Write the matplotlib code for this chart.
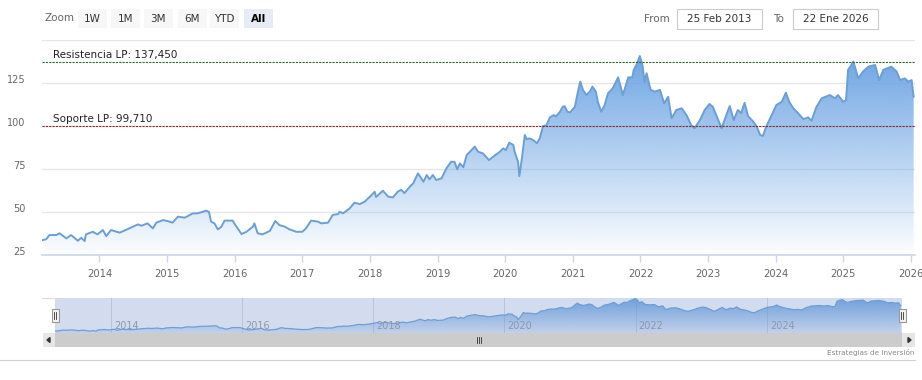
import numpy as np
import matplotlib
matplotlib.use("Agg")
import matplotlib.pyplot as plt
import matplotlib.colors as mcolors
from matplotlib.patches import Rectangle, Polygon
from matplotlib.transforms import ScaledTranslation

# price series, dates as decimal years
years = [
    2013.16, 2013.21, 2013.26, 2013.36, 2013.41, 2013.51, 2013.58, 2013.68, 2013.73, 2013.78,
    2013.80, 2013.90, 2013.97, 2014.05, 2014.10, 2014.17, 2014.30, 2014.44, 2014.57, 2014.62,
    2014.71, 2014.79, 2014.84, 2014.94, 2015.01, 2015.08, 2015.16, 2015.26, 2015.31, 2015.38,
    2015.45, 2015.58, 2015.62, 2015.65, 2015.70, 2015.75, 2015.80, 2015.85, 2015.97, 2016.00,
    2016.10, 2016.17, 2016.27, 2016.29, 2016.34, 2016.41, 2016.52, 2016.60, 2016.66, 2016.74,
    2016.81, 2016.91, 2017.00, 2017.05, 2017.13, 2017.23, 2017.28, 2017.38, 2017.45, 2017.53,
    2017.55, 2017.60, 2017.70, 2017.77, 2017.85, 2017.92, 2018.00, 2018.07, 2018.09, 2018.19,
    2018.27, 2018.34, 2018.41, 2018.46, 2018.51, 2018.59, 2018.64, 2018.71, 2018.79, 2018.84,
    2018.88, 2018.93, 2018.98, 2019.06, 2019.13, 2019.20, 2019.25, 2019.29, 2019.33, 2019.38,
    2019.43, 2019.50, 2019.55, 2019.60, 2019.67, 2019.76, 2019.82, 2019.92, 2019.97, 2020.01,
    2020.06, 2020.12, 2020.14, 2020.19, 2020.21, 2020.25, 2020.29, 2020.32, 2020.36, 2020.41,
    2020.47, 2020.51, 2020.56, 2020.61, 2020.66, 2020.72, 2020.75, 2020.81, 2020.85, 2020.88,
    2020.92, 2020.96, 2021.03, 2021.08, 2021.11, 2021.15, 2021.20, 2021.25, 2021.29, 2021.34,
    2021.37, 2021.42, 2021.47, 2021.52, 2021.59, 2021.67, 2021.74, 2021.82, 2021.88, 2021.90,
    2021.94, 2021.99, 2022.03, 2022.06, 2022.09, 2022.15, 2022.21, 2022.29, 2022.35, 2022.41,
    2022.46, 2022.53, 2022.61, 2022.68, 2022.75, 2022.80, 2022.88, 2022.95, 2023.02, 2023.07,
    2023.12, 2023.20, 2023.27, 2023.32, 2023.38, 2023.44, 2023.49, 2023.54, 2023.59, 2023.67,
    2023.72, 2023.77, 2023.81, 2023.86, 2023.94, 2024.01, 2024.09, 2024.15, 2024.20, 2024.26,
    2024.33, 2024.41, 2024.48, 2024.53, 2024.60, 2024.68, 2024.73, 2024.80, 2024.88, 2024.92,
    2025.00, 2025.04, 2025.07, 2025.15, 2025.22, 2025.29, 2025.37, 2025.47, 2025.53, 2025.59,
    2025.71, 2025.79, 2025.84, 2025.91, 2025.96, 2026.01, 2026.04,
]
prices = [
    33.7, 34.1, 36.6, 36.6, 37.6, 34.7, 36.6, 33.3, 35.0, 33.1,
    37.0, 38.5, 37.0, 39.5, 36.0, 39.5, 38.0, 40.5, 42.8, 42.0,
    43.4, 40.5, 43.8, 45.3, 44.7, 43.8, 47.3, 46.7, 47.7, 49.2,
    49.2, 50.8, 50.0, 44.4, 43.4, 39.9, 41.3, 45.0, 45.0, 43.0,
    37.2, 38.4, 41.5, 43.4, 37.6, 37.0, 39.0, 44.8, 42.4, 41.5,
    39.9, 38.5, 38.5, 40.3, 45.0, 44.4, 43.4, 43.8, 48.3, 48.8,
    50.2, 49.2, 52.1, 55.4, 54.6, 56.0, 58.9, 61.8, 58.7, 62.4,
    58.9, 58.5, 61.8, 62.9, 61.0, 64.7, 66.7, 72.5, 67.6, 71.5,
    69.0, 71.5, 68.6, 69.6, 75.4, 79.2, 79.2, 74.8, 78.3, 76.0,
    83.1, 86.0, 88.0, 85.0, 84.1, 80.2, 82.1, 85.0, 87.0, 86.0,
    90.3, 89.0, 85.0, 79.2, 70.9, 82.1, 94.8, 92.3, 92.8, 91.9,
    90.0, 92.8, 100.0, 100.4, 105.0, 106.4, 105.5, 108.3, 111.2, 111.5,
    108.3, 107.9, 111.2, 120.9, 125.8, 121.0, 118.0, 120.0, 122.9, 120.0,
    114.0, 108.3, 112.2, 119.0, 121.9, 128.3, 118.0, 128.3, 128.3, 132.6,
    135.5, 140.7, 135.5, 125.8, 130.7, 121.0, 120.0, 121.0, 113.2, 117.0,
    104.5, 109.3, 110.3, 106.4, 100.6, 98.7, 103.5, 109.3, 112.8, 111.2,
    106.4, 98.7, 106.4, 111.6, 103.5, 109.3, 107.5, 113.5, 105.8, 102.5,
    99.6, 94.8, 94.2, 99.6, 106.4, 112.2, 114.1, 119.4, 114.1, 110.3,
    107.5, 104.0, 105.0, 103.1, 110.9, 116.1, 116.9, 118.0, 116.1, 118.0,
    114.1, 115.0, 132.6, 137.4, 127.7, 131.6, 134.5, 135.5, 126.7, 132.6,
    134.5, 131.6, 126.7, 127.7, 125.8, 126.7, 117.0,
]

resistance = 137.450
support = 99.710
resistance_label = "Resistencia LP: 137,450"
support_label = "Soporte LP: 99,710"

y_ticks = [25, 50, 75, 100, 125, 150]
y_labels = ["25", "50", "75", "100", "125", ""]
x_ticks = list(range(2014, 2027))
nav_ticks = [2014, 2016, 2018, 2020, 2022, 2024]
zoom_buttons = ["1W", "1M", "3M", "6M", "YTD", "All"]
date_from = "25 Feb 2013"
date_to = "22 Ene 2026"
credit = "Estrategias de Inversión"

x0, x1 = 2013.15, 2026.06

W, H = 922, 380
fig = plt.figure(figsize=(W / 100, H / 100), dpi=100)
plt.rcParams['font.family'] = ['DejaVu Sans']


def px_axes(left, top, right, bottom, **kw):
    return fig.add_axes([left / W, 1 - bottom / H, (right - left) / W, (bottom - top) / H], **kw)


def gradient_fill(ax, x, y, ybot, ytop, rgb, a_top, a_bot, z):
    verts = [(x[0], ybot)] + list(zip(x, y)) + [(x[-1], ybot)]
    clip = Polygon(verts, closed=True, facecolor='none', edgecolor='none',
                   transform=ax.transData)
    ax.add_patch(clip)
    grad = np.zeros((256, 1, 4))
    grad[:, :, :3] = mcolors.to_rgb(rgb)
    grad[:, 0, 3] = np.linspace(a_top, a_bot, 256)
    im = ax.imshow(grad, aspect='auto', extent=[x[0], x[-1], ybot, ytop],
                   origin='upper', zorder=z, interpolation='bilinear')
    im.set_clip_path(clip)


# ---- main chart
ax = px_axes(42, 40, 915, 255)
gradient_fill(ax, years, prices, 25, 141, '#6ea5e4', 1.0, 0.02, 1)
ax.plot(years, prices, color='#6c9fd2', lw=1.4, zorder=3)
ax.set_xlim(x0, x1)
ax.set_ylim(25, 150)
ax.set_yticks(y_ticks)
ax.set_yticklabels(y_labels)
ax.set_xticks(x_ticks)
ax.set_xticklabels([str(t) for t in x_ticks])
ax.grid(axis='y', color='#e6e6e6', lw=1)
ax.set_axisbelow(True)
for s in ['top', 'right', 'left']:
    ax.spines[s].set_visible(False)
ax.spines['bottom'].set_color('#ccd6eb')
ax.spines['bottom'].set_linewidth(1.2)
ax.tick_params(axis='y', length=0, pad=12, labelsize=7, labelcolor='#666666')
ax.tick_params(axis='x', length=5, color='#ccd6eb', width=1, pad=5,
               labelsize=7.2, labelcolor='#666666')
for lab in ax.get_yticklabels():
    lab.set_transform(lab.get_transform() + ScaledTranslation(0, 4 / 100, fig.dpi_scale_trans))

ax.axhline(resistance, color='#2f6b2f', lw=0.8, ls=(0, (2, 1)), zorder=4)
ax.axhline(support, color='#8e2a2a', lw=0.8, ls=(0, (2, 1)), zorder=4)
ax.annotate(resistance_label, (x0, resistance), xytext=(11, 2), textcoords='offset pixels',
            fontsize=7.5, color='#222222', va='bottom', zorder=5)
ax.annotate(support_label, (x0, support), xytext=(11, 2), textcoords='offset pixels',
            fontsize=7.5, color='#222222', va='bottom', zorder=5)

# ---- navigator
nav = px_axes(55, 298, 902, 333)
nav.set_facecolor('#d3dbee')
lo, hi = min(prices), max(prices)
gradient_fill(nav, years, prices, lo - 6, hi, '#5f95d8', 0.85, 0.15, 1)
nav.plot(years, prices, color='#6d9fd6', lw=0.9, zorder=3)
nav.set_xlim(x0, x1)
nav.set_ylim(lo - 6, hi + 2)
for t in nav_ticks:
    nav.axvline(t, color='#bcc5d8', lw=0.7, zorder=0.5)
    nav.annotate(str(t), (t, lo - 6), xytext=(3, 2), textcoords='offset pixels',
                 fontsize=7, color='#8f98aa', va='bottom', zorder=4)
nav.set_xticks([])
nav.set_yticks([])
for s in nav.spines.values():
    s.set_visible(False)

# ---- overlay axes in pixel coordinates for widgets
ov = fig.add_axes([0, 0, 1, 1], zorder=10)
ov.set_xlim(0, W)
ov.set_ylim(H, 0)
ov.axis('off')
ov.patch.set_alpha(0)

# navigator handles
for hx in (55, 902):
    ov.add_patch(Rectangle((hx - 3.5, 309), 7, 13, facecolor='#f2f2f2', edgecolor='#999999', lw=0.8))
    ov.plot([hx - 1, hx - 1], [312, 319], color='#333333', lw=0.6)
    ov.plot([hx + 1, hx + 1], [312, 319], color='#333333', lw=0.6)
ov.plot([42, 55], [298, 298], color='#dddddd', lw=0.8)

# scrollbar
ov.add_patch(Rectangle((55, 333), 847, 14, facecolor='#cccccc', edgecolor='none'))
ov.add_patch(Rectangle((42.5, 333), 12.5, 14, facecolor='#e6e6e6', edgecolor='none'))
ov.add_patch(Rectangle((902, 333), 13, 14, facecolor='#e6e6e6', edgecolor='none'))
ov.add_patch(Polygon([[47, 340], [50, 337.5], [50, 342.5]], closed=True, color='#333333'))
ov.add_patch(Polygon([[911, 340], [908, 337.5], [908, 342.5]], closed=True, color='#333333'))
for gx in (476.5, 478.5, 480.5):
    ov.plot([gx, gx], [337, 343], color='#333333', lw=0.6)

ov.plot([0, 915], [360, 360], color='#d0d0d0', lw=0.8)
ov.text(914, 352, credit, fontsize=5.2, color='#8a8a8a', ha='right', va='center')

# range selector
ov.text(44, 18, "Zoom", fontsize=7.5, color='#666666', va='center')
btn_left = [78, 111, 144, 178, 210, 244]
for bx, label in zip(btn_left, zoom_buttons):
    sel = label == "All"
    ov.add_patch(Rectangle((bx, 9), 28.5, 19, facecolor='#e6ebf5' if sel else '#f7f7f7',
                           edgecolor='none'))
    ov.text(bx + 14.25, 18.5, label, fontsize=7.5, ha='center', va='center',
            color='#000000' if sel else '#333333', fontweight='bold' if sel else 'normal')

ov.text(644, 18.5, "From", fontsize=7.5, color='#666666', va='center')
ov.add_patch(Rectangle((677, 9), 85, 20, facecolor='white', edgecolor='#cccccc', lw=0.8))
ov.text(719.5, 18.5, date_from, fontsize=7.5, color='#333333', ha='center', va='center')
ov.text(773, 18.5, "To", fontsize=7.5, color='#666666', va='center')
ov.add_patch(Rectangle((793, 9), 85, 20, facecolor='white', edgecolor='#cccccc', lw=0.8))
ov.text(835.5, 18.5, date_to, fontsize=7.5, color='#333333', ha='center', va='center')

fig.savefig("out.png", dpi=100)
